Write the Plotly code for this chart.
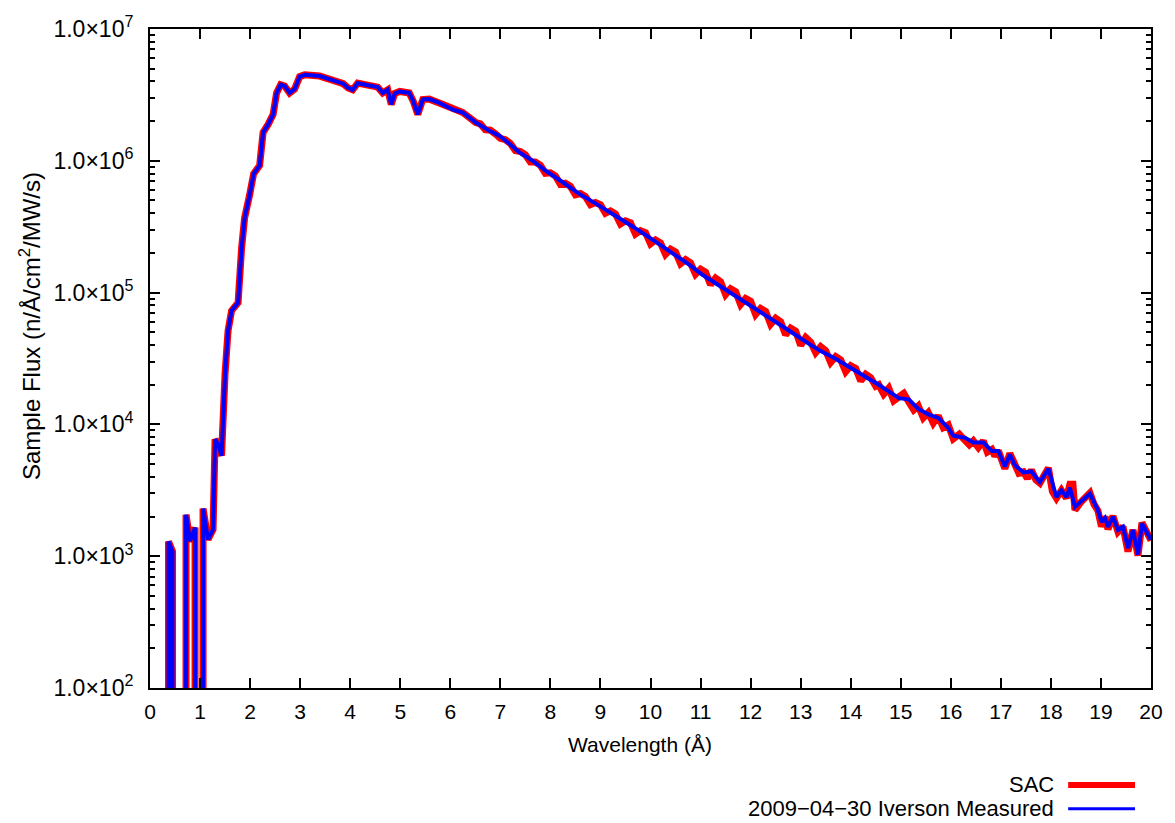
import numpy as np
import plotly.graph_objects as go

# ---- data (wavelength in Angstrom, flux as log10 of n/A/cm^2/MW/s) ----
# values of -1 stand for zero flux (drawn off the bottom of the log axis)
meas_wl = [0.37, 0.37, 0.45, 0.45, 0.72, 0.72, 0.80, 0.90, 0.90, 1.06, 1.06, 1.16, 1.26, 1.30, 1.36,
           1.43, 1.50, 1.56, 1.63, 1.76, 1.83, 1.89, 1.99, 2.07, 2.19, 2.26, 2.36, 2.46, 2.53, 2.61,
           2.69, 2.79, 2.89, 2.99, 3.09, 3.39, 3.66, 3.86, 3.96, 4.05, 4.15, 4.35, 4.55, 4.65, 4.75,
           4.82, 4.89, 4.99, 5.18, 5.26, 5.35, 5.45, 5.58, 5.78, 6.05, 6.25, 6.51, 6.78, 6.98, 7.18,
           7.38, 7.65, 7.91, 8.24, 8.57, 8.90, 9.24, 9.57, 9.90, 10.20, 10.57, 10.80, 11.03, 11.35,
           11.70, 12.00, 12.36, 12.75, 13.16, 13.40, 13.69, 14.09, 14.30, 14.56, 14.76, 14.96, 15.16,
           15.35, 15.55, 15.75, 15.95, 16.05, 16.29, 16.45, 16.65, 16.82, 16.95, 17.08, 17.18, 17.28,
           17.45, 17.61, 17.78, 17.95, 18.11, 18.21, 18.31, 18.38, 18.48, 18.61, 18.78, 18.94, 19.01,
           19.08, 19.14, 19.24, 19.34, 19.44, 19.54, 19.64, 19.74, 19.82, 19.97, 20.00]
meas_log_flux = [-1, 3.111, 3.037, -1, -1, 3.314, 3.114, 3.217, -1, -1, 3.362, 3.127, 3.204, 3.886, 3.850,
                 3.763, 4.387, 4.712, 4.863, 4.924, 5.338, 5.565, 5.740, 5.901, 5.964, 6.215, 6.276, 6.352, 6.515, 6.577,
                 6.568, 6.515, 6.544, 6.639, 6.652, 6.643, 6.610, 6.585, 6.553, 6.539, 6.589, 6.577, 6.559, 6.515, 6.539,
                 6.428, 6.511, 6.526, 6.515, 6.452, 6.352, 6.465, 6.468, 6.439, 6.389, 6.366, 6.290, 6.228, 6.190, 6.130,
                 6.064, 6.000, 5.924, 5.839, 5.751, 5.677, 5.601, 5.519, 5.438, 5.362, 5.262, 5.205, 5.137, 5.060,
                 4.973, 4.898, 4.813, 4.716, 4.613, 4.556, 4.500, 4.412, 4.362, 4.301, 4.250, 4.199, 4.190,
                 4.117, 4.076, 4.049, 3.973, 3.914, 3.898, 3.863, 3.863, 3.799, 3.799, 3.681, 3.771, 3.690,
                 3.636, 3.643, 3.562, 3.663, 3.449, 3.500, 3.449, 3.519, 3.375, 3.415, 3.474, 3.348, 3.260,
                 3.290, 3.223, 3.299, 3.199, 3.223, 3.061, 3.199, 3.013, 3.248, 3.137, 3.125]

sac_wl = [0.37, 0.37, 0.45, 0.45, 0.72, 0.72, 0.80, 0.90, 0.90, 1.06, 1.06, 1.16, 1.26, 1.30, 1.36,
          1.43, 1.50, 1.56, 1.63, 1.76, 1.83, 1.89, 1.99, 2.07, 2.19, 2.26, 2.36, 2.46, 2.53, 2.61,
          2.69, 2.79, 2.89, 2.99, 3.09, 3.39, 3.66, 3.86, 3.96, 4.05, 4.15, 4.35, 4.55, 4.65, 4.75,
          4.82, 4.89, 4.99, 5.18, 5.26, 5.35, 5.45, 5.58, 5.78, 6.05, 6.25, 6.51,
          6.6, 6.7, 6.8, 6.9, 7.0, 7.1, 7.2, 7.3, 7.4, 7.5, 7.6, 7.7, 7.8, 7.9, 8.0, 8.1, 8.2, 8.3, 8.4,
          8.5, 8.6, 8.7, 8.8, 8.9, 9.0, 9.1, 9.2, 9.3, 9.4, 9.5, 9.6, 9.7, 9.8, 9.9, 10.0, 10.1, 10.2,
          10.3, 10.4, 10.5, 10.6, 10.7, 10.8, 10.9, 11.0, 11.1, 11.2, 11.3, 11.4, 11.5, 11.6, 11.7, 11.8,
          11.9, 12.0, 12.1, 12.2, 12.3, 12.4, 12.5, 12.6, 12.7, 12.8, 12.9, 13.0, 13.1, 13.2, 13.3, 13.4,
          13.5, 13.6, 13.7, 13.8, 13.9, 14.0, 14.1, 14.2, 14.3, 14.4, 14.5,
          14.56, 14.66, 14.76, 14.86, 14.96, 15.06, 15.16, 15.26, 15.35, 15.45, 15.55, 15.65, 15.75,
          15.85, 15.95, 16.05, 16.17, 16.29, 16.37, 16.45, 16.55, 16.65, 16.73, 16.82, 16.88, 16.95,
          17.02, 17.08, 17.18, 17.28, 17.36, 17.45, 17.53, 17.61, 17.70, 17.78, 17.86, 17.95, 18.03,
          18.11, 18.21, 18.31, 18.38, 18.44, 18.48, 18.55, 18.61, 18.70, 18.78, 18.86, 18.94, 19.01,
          19.08, 19.14, 19.24, 19.34, 19.44, 19.54, 19.64, 19.74, 19.82, 19.92, 20.00]
sac_log_flux = [-1, 3.111, 3.037, -1, -1, 3.314, 3.114, 3.217, -1, -1, 3.362, 3.127, 3.204, 3.886, 3.850,
                3.763, 4.387, 4.712, 4.863, 4.924, 5.338, 5.565, 5.740, 5.901, 5.964, 6.215, 6.276, 6.352, 6.515, 6.577,
                6.568, 6.515, 6.544, 6.639, 6.652, 6.643, 6.610, 6.585, 6.553, 6.539, 6.589, 6.577, 6.559, 6.515, 6.539,
                6.428, 6.511, 6.526, 6.515, 6.452, 6.352, 6.465, 6.468, 6.439, 6.389, 6.366, 6.290,
                6.280, 6.236, 6.232, 6.205, 6.170, 6.160, 6.131, 6.078, 6.071, 6.045, 5.990, 5.990, 5.966, 5.905,
                5.909, 5.885, 5.822, 5.830, 5.806, 5.742, 5.752, 5.728, 5.668, 5.684, 5.667, 5.602, 5.620, 5.596,
                5.520, 5.544, 5.530, 5.445, 5.470, 5.455, 5.370, 5.400, 5.377,
                5.290, 5.330, 5.308, 5.220, 5.250, 5.225, 5.140, 5.178, 5.155, 5.060, 5.110, 5.082, 4.985, 5.030,
                5.008, 4.910, 4.955, 4.935, 4.835, 4.880, 4.858, 4.760, 4.805, 4.778, 4.680, 4.730, 4.708, 4.600,
                4.660, 4.625, 4.545, 4.590, 4.560, 4.470, 4.515, 4.490, 4.400, 4.445, 4.425, 4.330, 4.380, 4.355,
                4.290,
                4.301, 4.230, 4.275, 4.180, 4.210, 4.235, 4.170, 4.110, 4.140, 4.050, 4.090, 4.010, 4.065,
                3.975, 3.995, 3.890, 3.925, 3.885, 3.845, 3.875, 3.825, 3.875, 3.790, 3.810, 3.760, 3.800,
                3.700, 3.665, 3.780, 3.690, 3.630, 3.640, 3.590, 3.655, 3.580, 3.555, 3.600, 3.670, 3.490,
                3.440, 3.500, 3.440, 3.545, 3.545, 3.350, 3.400, 3.415, 3.450, 3.480, 3.395, 3.345, 3.225,
                3.300, 3.205, 3.305, 3.185, 3.225, 3.035, 3.200, 3.005, 3.255, 3.180, 3.120]

y_major = [1e2, 1e3, 1e4, 1e5, 1e6, 1e7]
y_major_text = ["1.0×10<sup>2</sup>", "1.0×10<sup>3</sup>", "1.0×10<sup>4</sup>",
                "1.0×10<sup>5</sup>", "1.0×10<sup>6</sup>", "1.0×10<sup>7</sup>"]
y_minor = [m * 10 ** e for e in range(2, 7) for m in range(2, 10)]
x_ticks = list(range(0, 21))

series_names = ["SAC", "2009\u221204\u221230 Iverson Measured"]
series_colors = ["#ff0000", "#0000ff"]
plot_widths = [7, 4]
key_widths = [6, 3]

FONT = "Liberation Sans, Arial, Helvetica, sans-serif"

fig = go.Figure()
fig.add_trace(go.Scatter(x=sac_wl, y=np.power(10.0, sac_log_flux), mode="lines",
                         line=dict(color=series_colors[0], width=plot_widths[0]),
                         name=series_names[0], showlegend=False))
fig.add_trace(go.Scatter(x=meas_wl, y=np.power(10.0, meas_log_flux), mode="lines",
                         line=dict(color=series_colors[1], width=plot_widths[1]),
                         name=series_names[1], showlegend=False))

W, H = 1175, 823
L, R, T, B = 150, 22, 22, 135
pw, ph = W - L - R, H - T - B

def px(xp):
    return (xp - L) / pw

def py(yp):
    return (H - B - yp) / ph

# gnuplot-style key: text right-aligned, sample line to the right
key_rows = [786, 810]
for name, col, wid, yy in zip(series_names, series_colors, key_widths, key_rows):
    fig.add_annotation(x=px(1058), y=py(yy), xref="paper", yref="paper", text=name,
                       showarrow=False, xanchor="right", yanchor="middle",
                       font=dict(family=FONT, size=22, color="black"))
    fig.add_shape(type="line", xref="paper", yref="paper", x0=px(1070), x1=px(1137),
                  y0=py(yy), y1=py(yy), line=dict(color=col, width=wid))

# axis titles placed as in the reference
fig.add_annotation(x=px(641), y=py(745), xref="paper", yref="paper", text="Wavelength (Å)",
                   showarrow=False, xanchor="center", yanchor="middle",
                   font=dict(family=FONT, size=21, color="black"))
fig.add_annotation(x=px(30), y=py(322), xref="paper", yref="paper",
                   text="Sample Flux (n/Å/cm<sup>2</sup>/MW/s)", textangle=-90,
                   showarrow=False, xanchor="center", yanchor="middle",
                   font=dict(family=FONT, size=24, color="black"))

fig.update_layout(
    width=W, height=H,
    margin=dict(l=L, r=R, t=T, b=B),
    paper_bgcolor="white", plot_bgcolor="white",
    font=dict(family=FONT, size=21, color="black"),
    showlegend=False,
)
fig.update_xaxes(range=[0, 20], tickmode="array", tickvals=x_ticks,
                 ticks="inside", ticklen=10, tickwidth=1.5, tickcolor="black",
                 showline=True, linewidth=2, linecolor="black", mirror="allticks",
                 showgrid=False, zeroline=False, ticklabelstandoff=4,
                 tickfont=dict(family=FONT, size=21))
fig.update_yaxes(type="log", range=[2, 7], tickmode="array", tickvals=y_major, ticktext=y_major_text,
                 ticks="inside", ticklen=10, tickwidth=1.5, tickcolor="black",
                 minor=dict(tickmode="array", tickvals=y_minor, ticks="inside", ticklen=5,
                            tickwidth=1.5, tickcolor="black", showgrid=False),
                 showline=True, linewidth=2, linecolor="black", mirror="allticks",
                 showgrid=False, zeroline=False, ticklabelstandoff=10,
                 tickfont=dict(family=FONT, size=23))

fig.write_html("out.html")
